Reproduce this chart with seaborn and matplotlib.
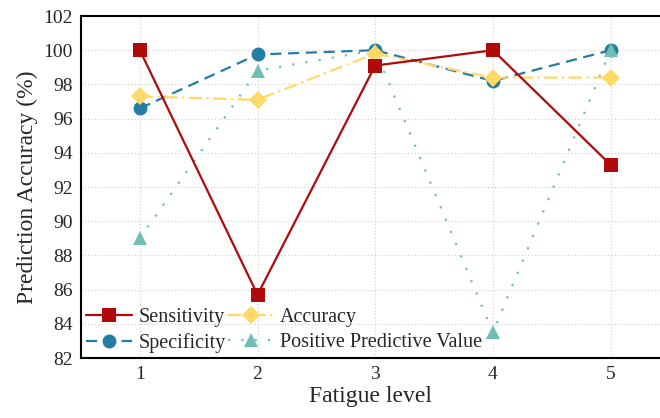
import pandas as pd
import matplotlib
matplotlib.use("Agg")
import matplotlib.pyplot as plt
import seaborn as sns

fatigue_level = [1, 2, 3, 4, 5]
sensitivity = [100.0, 85.7, 99.1, 100.0, 93.3]
specificity = [96.6, 99.75, 100.0, 98.2, 100.0]
accuracy = [97.3, 97.1, 99.8, 98.4, 98.4]
ppv = [89.0, 98.8, 100.0, 83.5, 100.0]
y_ticks = [82, 84, 86, 88, 90, 92, 94, 96, 98, 100, 102]

sns.set_style("white")
plt.rcParams['font.family'] = ['Liberation Serif', 'DejaVu Serif']

fig = plt.figure(figsize=(6.6, 4.18), dpi=100)
ax = fig.add_axes([81/660, (418-358)/418, (660-81)/660, (358-16)/418])

series = [
    ("Sensitivity", sensitivity, "#B00A0A", "s", "-", 5, 9.5),
    ("Specificity", specificity, "#237DA4", "o", (0, (5, 3)), 2, 10),
    ("Accuracy", accuracy, "#FFD966", "D", (0, (6, 2, 1, 2)), 4, 9),
    ("Positive Predictive Value", ppv, "#6FC0B2", "^", (0, (1, 5)), 3, 10),
]
for name, vals, col, mk, ls, z, ms in series:
    df = pd.DataFrame({"level": fatigue_level, "value": vals})
    sns.lineplot(data=df, x="level", y="value", ax=ax, color=col, marker=mk,
                 linestyle=ls, linewidth=1.6, markersize=ms,
                 markeredgewidth=0, label=name, zorder=z)

ax.set_xlim(0.5, 5.42)
ax.set_ylim(82, 102)
ax.set_xticks(fatigue_level)
ax.set_yticks(y_ticks)
ax.tick_params(direction="in", length=5, width=1.2, labelsize=14, pad=6)
ax.grid(True, linestyle=(0, (1, 2)), color="#cfcfcf", linewidth=0.8)
for s in ["left", "bottom", "top"]:
    ax.spines[s].set_color("black")
    ax.spines[s].set_linewidth(1.5)
ax.spines["right"].set_visible(False)
ax.set_xlabel("Fatigue level", fontsize=17, labelpad=2)
ax.set_ylabel("Prediction Accuracy (%)", fontsize=17, labelpad=4)

h, l = ax.get_legend_handles_labels()
ax.legend(h, l, ncol=2, loc="lower left",
          frameon=False, fontsize=14.5, handlelength=2.3, columnspacing=0.1,
          handletextpad=0.3, labelspacing=0.3, borderaxespad=0.15,
          borderpad=0.1, bbox_to_anchor=(0.0, 0.0))

fig.savefig("out.png", dpi=100)
